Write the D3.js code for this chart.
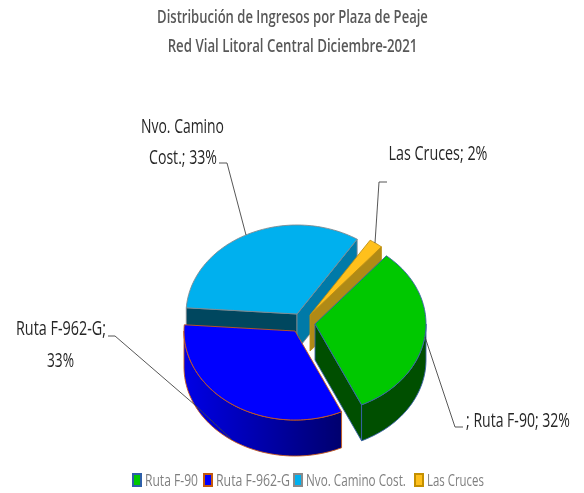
<!DOCTYPE html>
<html>
<head>
<meta charset="utf-8">
<script src="https://cdn.jsdelivr.net/npm/d3@7"></script>
<style>
html,body{margin:0;padding:0;background:#fff;}
text{font-family:"Open Sans","Noto Sans",sans-serif;}
</style>
</head>
<body>
<div id="chart"></div>
<script>
var titleLines = ["Distribución de Ingresos por Plaza de Peaje", "Red Vial Litoral Central Diciembre-2021"];
var categories = ["Ruta F-90", "Ruta F-962-G", "Nvo. Camino Cost.", "Las Cruces"];
var shares = [32, 33, 33, 2];

var topColors = ["#00c800", "#0000ff", "#00b0ee", "#ffc01e"];
var edgeColors = ["#3a62a8", "#c8591a", "#7f8a90", "#c09010"];
var wallColors = ["#004f00", "#00007a", "#007aa8", "#b08a14"];
var legendEdges = ["#2e5fa8", "#c55a11", "#8a8a8a", "#c49000"];
var sliceShift = [[10, 2], [-10, 9], [-8, -8], [5, -7]];

var svg = d3.select("#chart").append("svg").attr("width", 584).attr("height", 493);
var defs = svg.append("defs");
defs.append("filter").attr("id", "soft").append("feGaussianBlur").attr("stdDeviation", 0.35);

var grad = defs.append("linearGradient").attr("id", "blueWall");
grad.append("stop").attr("offset", "0%").attr("stop-color", "#0000e6");
grad.append("stop").attr("offset", "100%").attr("stop-color", "#00006e");

var g = svg.append("g").attr("filter", "url(#soft)");

// pie geometry
var cx = 305, cy = 322, rx = 111, ry = 89, depth = 36;
var pie = d3.pie().sort(null).value(function(d) { return d; })
    .startAngle(40 * Math.PI / 180).endAngle(400 * Math.PI / 180);
var arcs = pie(shares);

var rim = function(o, a) {
    return [o[0] + rx * Math.sin(a), o[1] - ry * Math.cos(a)];
};
var rimPoints = function(o, a0, a1) {
    var n = Math.max(2, Math.ceil((a1 - a0) / 0.03));
    return d3.range(n + 1).map(function(k) { return rim(o, a0 + (a1 - a0) * k / n); });
};
var line = d3.line();
var down = function(p) { return [p[0], p[1] + depth]; };
var flatWall = function(o, a) {
    var p = rim(o, a);
    return line([o, p, down(p), down(o)]) + "Z";
};
var outerWall = function(o, a0, a1) {
    var pts = rimPoints(o, a0, a1);
    return line(pts.concat(pts.slice().reverse().map(down))) + "Z";
};
var drawWall = function(d, fill, i) {
    g.append("path").attr("d", d).attr("fill", fill)
        .attr("stroke", edgeColors[i]).attr("stroke-width", 0.9).attr("stroke-linejoin", "round");
};
var drawSlice = function(d, i) {
    var o = [cx + sliceShift[i][0], cy + sliceShift[i][1]];
    if (i == 0) { // green
        drawWall(flatWall(o, d.endAngle), wallColors[i], i);
        drawWall(outerWall(o, Math.PI / 2, d.endAngle), wallColors[i], i);
    } else if (i == 1) { // blue
        drawWall(outerWall(o, d.startAngle, 3 * Math.PI / 2), "url(#blueWall)", i);
    } else if (i == 2) { // camino
        drawWall(flatWall(o, d.startAngle), "#00465f", i);
        drawWall(flatWall(o, d.endAngle), wallColors[i], i);
    } else {
        drawWall(flatWall(o, d.endAngle), wallColors[i], i);
    }
    var top = [o].concat(rimPoints(o, d.startAngle, d.endAngle));
    g.append("path").attr("d", line(top) + "Z").attr("fill", topColors[i])
        .attr("stroke", edgeColors[i]).attr("stroke-width", 0.9).attr("stroke-linejoin", "round");
};

// back to front
[2, 3, 1, 0].forEach(function(i) { drawSlice(arcs[i], i); });

// leader lines
var leaders = [
    [[425, 337], [455, 427], [463, 427]],
    [[232, 440], [195, 405], [115, 336], [108, 336]],
    [[246, 235], [227, 163], [219, 163]],
    [[375, 243], [379, 182], [387, 182]]
];
g.selectAll(".leader").data(leaders).enter().append("path").attr("class", "leader")
    .attr("d", function(d) { return line(d); })
    .attr("fill", "none").attr("stroke", "#444").attr("stroke-width", 0.9);

// squeeze a text to the narrow width it has in the picture
var fit = function(node, x, y, w) {
    var sx = w / node.getComputedTextLength();
    d3.select(node).attr("transform", "translate(" + x + "," + y + ") scale(" + sx + ",1)");
};

// title
g.selectAll(".title").data(titleLines).enter().append("text").attr("class", "title")
    .attr("text-anchor", "middle").attr("font-size", 18.5).attr("font-weight", 600).attr("fill", "#595959")
    .text(function(d) { return d; })
    .each(function(d, i) { fit(this, 292.5, 23 + i * 29, [271, 250][i]); });

// data labels
var labelRows = [
    {t: "; Ruta F-90; 32%", x: 518, y: 427, w: 104},
    {t: "Ruta F-962-G;", x: 61, y: 335, w: 90},
    {t: "33%", x: 60.5, y: 367, w: 27},
    {t: "Nvo. Camino", x: 182.5, y: 133, w: 83},
    {t: "Cost.; 33%", x: 183, y: 164, w: 68},
    {t: "Las Cruces; 2%", x: 438, y: 160, w: 99}
];
g.selectAll(".lbl").data(labelRows).enter().append("text").attr("class", "lbl")
    .attr("text-anchor", "middle").attr("font-size", 20).attr("fill", "#262626")
    .text(function(d) { return d.t; })
    .each(function(d) { fit(this, d.x, d.y, d.w); });

// legend
var legendX = [133, 204, 294, 415];
var legendW = [53, 74, 100, 57];
var lg = g.selectAll(".lg").data(categories).enter().append("g").attr("class", "lg")
    .attr("transform", function(d, i) { return "translate(" + legendX[i] + ",474)"; });
lg.append("rect").attr("width", 8).attr("height", 12)
    .attr("fill", function(d, i) { return topColors[i]; })
    .attr("stroke", function(d, i) { return legendEdges[i]; }).attr("stroke-width", 2);
lg.append("text").attr("font-size", 17).attr("fill", "#7f7f7f")
    .text(function(d) { return d; })
    .each(function(d, i) { fit(this, 12, 12, legendW[i]); });
</script>
</body>
</html>
